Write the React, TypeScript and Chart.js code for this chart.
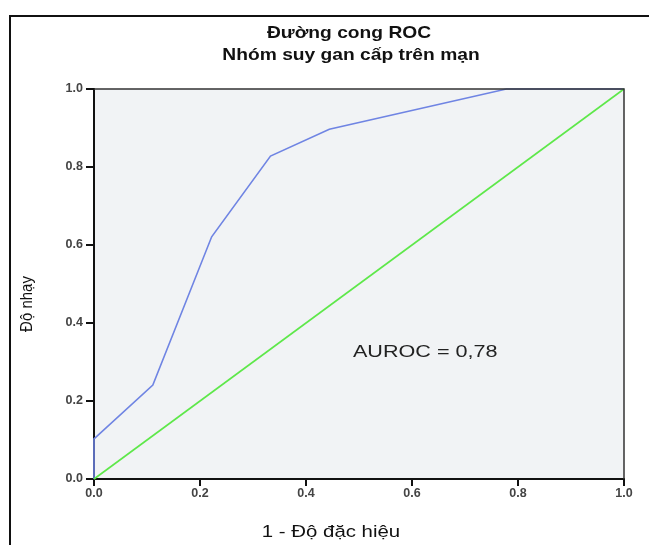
import React, { useEffect, useRef } from "react";
import { Chart, registerables } from "chart.js";

Chart.register(...registerables);

const titleLines = ["Đường cong ROC", "Nhóm suy gan cấp trên mạn"];
const xAxisTitle = "1 - Độ đặc hiệu";
const yAxisTitle = "Độ nhạy";
const annotationText = "AUROC = 0,78";

const rocX = [0, 0, 0.111, 0.222, 0.333, 0.444, 0.778, 1];
const rocY = [0, 0.103, 0.241, 0.621, 0.828, 0.897, 1, 1];
const refX = [0, 1];
const refY = [0, 1];
const tickValues = [0, 0.2, 0.4, 0.6, 0.8, 1.0];

const FONT = "'Liberation Sans', Arial, sans-serif";

function stretchedText(ctx: any, text: string, x: number, y: number, sx: number) {
  ctx.save();
  ctx.translate(x, y);
  ctx.scale(sx, 1);
  ctx.fillText(text, 0, 0);
  ctx.restore();
}

const decorPlugin = {
  id: "decor",
  beforeDraw(chart: any) {
    const { ctx, chartArea } = chart;
    ctx.save();
    ctx.fillStyle = "#ffffff";
    ctx.fillRect(0, 0, chart.width, chart.height);
    ctx.strokeStyle = "#111111";
    ctx.lineWidth = 2;
    ctx.strokeRect(10, 16, chart.width + 20, chart.height + 20);
    ctx.fillStyle = "#f1f3f5";
    ctx.fillRect(chartArea.left, chartArea.top, chartArea.right - chartArea.left, chartArea.bottom - chartArea.top);
    ctx.restore();
  },
  afterDatasetsDraw(chart: any) {
    const { ctx, chartArea } = chart;
    ctx.save();
    ctx.strokeStyle = "#333333";
    ctx.lineWidth = 1.5;
    ctx.beginPath();
    ctx.moveTo(chartArea.left, chartArea.top);
    ctx.lineTo(chartArea.right, chartArea.top);
    ctx.lineTo(chartArea.right, chartArea.bottom);
    ctx.stroke();
    ctx.restore();
  },
  afterDraw(chart: any) {
    const { ctx, scales } = chart;
    ctx.save();
    ctx.fillStyle = "#111111";
    ctx.textAlign = "center";
    ctx.textBaseline = "middle";
    ctx.font = `bold 17px ${FONT}`;
    stretchedText(ctx, titleLines[0], 349, 33, 1.13);
    stretchedText(ctx, titleLines[1], 351, 55, 1.13);
    ctx.font = `17px ${FONT}`;
    stretchedText(ctx, xAxisTitle, 331, 532, 1.2);
    ctx.save();
    ctx.translate(27, 304);
    ctx.rotate(-Math.PI / 2);
    ctx.scale(1, 1.15);
    ctx.font = `15px ${FONT}`;
    ctx.fillText(yAxisTitle, 0, 0);
    ctx.restore();
    ctx.font = `16px ${FONT}`;
    ctx.fillStyle = "#222222";
    const ax = scales.x.getPixelForValue(0.625);
    const ay = scales.y.getPixelForValue(0.325);
    stretchedText(ctx, annotationText, ax, ay, 1.35);
    ctx.restore();
  },
};

export default function App() {
  const ref = useRef<HTMLCanvasElement>(null);
  useEffect(() => {
    if (!ref.current) return;
    const chart = new Chart(ref.current, {
      type: "scatter",
      data: {
        datasets: [
          {
            label: "Reference",
            data: refX.map((x, i) => ({ x, y: refY[i] })),
            showLine: true,
            borderColor: "#5ee84a",
            borderWidth: 1.6,
            pointRadius: 0,
            clip: 6,
          },
          {
            label: "ROC",
            data: rocX.map((x, i) => ({ x, y: rocY[i] })),
            showLine: true,
            borderColor: "#6f84e3",
            borderWidth: 1.6,
            pointRadius: 0,
            clip: 6,
          },
        ],
      },
      options: {
        animation: false,
        responsive: false,
        events: [],
        layout: { padding: { left: 60, right: 25, top: 89, bottom: 36 } },
        plugins: {
          legend: { display: false },
          title: { display: false },
          tooltip: { enabled: false },
        },
        scales: {
          x: {
            type: "linear",
            min: 0,
            max: 1,
            afterBuildTicks: (s: any) => {
              s.ticks = tickValues.map((v) => ({ value: v }));
            },
            afterFit: (s: any) => {
              s.height = 30;
            },
            border: { display: true, color: "#111111", width: 2 },
            grid: { drawOnChartArea: false, drawTicks: true, tickLength: 7, color: "#111111", lineWidth: 2 },
            ticks: {
              color: "#444444",
              font: { family: FONT, size: 12.5, weight: "bold" },
              padding: 0,
              maxRotation: 0,
              callback: (v: any) => Number(v).toFixed(1),
            },
          },
          y: {
            type: "linear",
            min: 0,
            max: 1,
            afterBuildTicks: (s: any) => {
              s.ticks = tickValues.map((v) => ({ value: v }));
            },
            afterFit: (s: any) => {
              s.width = 34;
            },
            border: { display: true, color: "#111111", width: 2 },
            grid: { drawOnChartArea: false, drawTicks: true, tickLength: 8, color: "#111111", lineWidth: 2 },
            ticks: {
              color: "#444444",
              font: { family: FONT, size: 12.5, weight: "bold" },
              padding: 3,
              callback: (v: any) => Number(v).toFixed(1),
            },
          },
        },
      },
      plugins: [decorPlugin],
    });
    return () => chart.destroy();
  }, []);
  return (
    <div style={{ position: "fixed", left: 0, top: 0, width: 649, height: 545 }}>
      <canvas ref={ref} width={649} height={545} style={{ display: "block", width: 649, height: 545 }} />
    </div>
  );
}
